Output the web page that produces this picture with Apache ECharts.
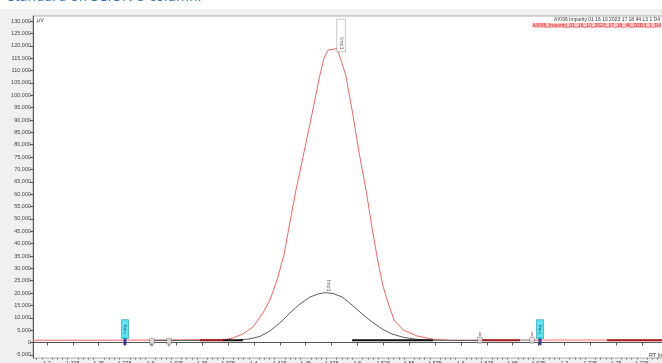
<!DOCTYPE html>
<html>
<head>
<meta charset="utf-8">
<script src="https://cdn.jsdelivr.net/npm/echarts@6/dist/echarts.min.js"></script>
<style>
html, body { margin: 0; padding: 0; background: #fff; }
#chart { width: 662px; height: 363px; }
</style>
</head>
<body>
<div id="chart"></div>
<script>
// RT [min] / µV readings
const redTrace = [
  [1.1865, 930], [1.2705, 930], [1.3720, 1210], [1.3798, 1860], [1.3894, 3480],
  [1.3991, 6310], [1.4087, 11960], [1.4155, 17220], [1.4223, 25300], [1.4290, 35410],
  [1.4348, 48750], [1.4406, 61690], [1.4484, 77040], [1.4561, 92400], [1.4633, 107360],
  [1.4677, 115040], [1.4716, 118270], [1.4803, 118870], [1.4841, 114220], [1.4888, 107960],
  [1.4955, 92400], [1.5015, 77040], [1.5083, 61690], [1.5141, 46320], [1.5199, 32580],
  [1.5247, 22880], [1.5286, 17220], [1.5354, 9130], [1.5441, 5090], [1.5576, 2670],
  [1.5730, 1330], [1.5895, 930], [1.7972, 930]
]
const blackTrace = [
  [1.2995, 850], [1.3817, 850], [1.3962, 1460], [1.4058, 2470], [1.4155, 4690],
  [1.4252, 8000], [1.4348, 11960], [1.4445, 15600], [1.4542, 18430], [1.4619, 19640],
  [1.4687, 20170], [1.4764, 19850], [1.4851, 18430], [1.4948, 15200], [1.5045, 11560],
  [1.5141, 8330], [1.5238, 5490], [1.5334, 3480], [1.5431, 2260], [1.5557, 1330],
  [1.5702, 930], [1.6184, 850]
]
const baseLevel = 950
const darkRedSegs = [[1.3479, 1.3701], [1.6184, 1.6571], [1.7412, 1.7972]]
const blackSegs = [[1.3701, 1.3894], [1.4948, 1.5730]]
const pinkSegs = [[1.6764, 1.7412]]
const greySegs = [[1.6571, 1.6687]]

const redPeak = ['Imp1', 1.4803, 118870]
const blackPeak = ['Imp1', 1.4687, 20170]

const injEvents = [1.2754, 1.6764]
const greenEvents = [1.3015, 1.3179]
const redEvents = [1.6184, 1.6687]

const xTicks = [1.2, 1.225, 1.25, 1.275, 1.3, 1.325, 1.35, 1.375, 1.4, 1.425, 1.45, 1.475,
  1.5, 1.525, 1.55, 1.575, 1.6, 1.625, 1.65, 1.675, 1.7, 1.725, 1.75, 1.775]
const yTicks = [-5000, 0, 5000, 10000, 15000, 20000, 25000, 30000, 35000, 40000, 45000,
  50000, 55000, 60000, 65000, 70000, 75000, 80000, 85000, 90000, 95000, 100000, 105000,
  110000, 115000, 120000, 125000, 130000]

const X_MIN = 1.1865, X_MAX = 1.7972
const Y_MIN = -6250, Y_MAX = 132050

// minor ticks: 4 between majors
const xMinor = []
for (let i = -1; i < xTicks.length; i++) {
  for (let k = 1; k < 5; k++) {
    const v = +(1.2 + i * 0.025 + k * 0.005).toFixed(4)
    if (v > X_MIN && v < X_MAX) xMinor.push(v)
  }
}

const segData = segs => {
  const out = []
  segs.forEach(s => { out.push([s[0], baseLevel], [s[1], baseLevel], [s[1], '-']) })
  return out
}
const evData = arr => arr.map(x => [x, baseLevel])

const smallFont = 'Liberation Sans'

const option = {
  animation: false,
  backgroundColor: '#f0f0f0',
  graphic: [
    { type: 'rect', left: 0, top: 0, shape: { width: 662, height: 9 }, style: { fill: '#fff' }, z: 0 },
    { type: 'text', left: 8, top: -10, z: 10,
      style: { text: 'standard on SCION-5 column.', font: '14px "Open Sans"', fill: '#2e75b6' } },
    { type: 'text', left: 37, top: 17, z: 10,
      style: { text: 'µV', font: '5.5px "Liberation Sans"', fill: '#333' } },
    { type: 'text', right: 2, top: 17, z: 10,
      style: { text: 'AX/06 Impurity 01 16 10 2023 17 18 44 L3 1 D4', font: '5px "Liberation Sans"', fill: '#333', align: 'right' } },
    { type: 'text', right: 1, top: 23, z: 10,
      style: { text: 'AX/06_Impurity_01_16_10_2023_17_18_46_D2D3_1_D4', font: '5px "Liberation Sans"', fill: '#e02020',
        backgroundColor: '#ffc4c4', align: 'right' } },
    { type: 'text', left: 649, top: 352, z: 10,
      style: { text: 'RT [min]', font: '5.5px "Liberation Sans"', fill: '#333' } }
  ],
  grid: {
    left: 33, top: 16, width: 632, height: 342,
    outerBoundsMode: 'none',
    show: true, backgroundColor: '#fff', borderColor: '#b0b0b0', borderWidth: 1
  },
  xAxis: [
    {
      type: 'value', min: X_MIN, max: X_MAX,
      axisLine: { show: true, lineStyle: { color: '#555', width: 1 } },
      axisTick: { show: true, customValues: xTicks, length: 3, lineStyle: { color: '#555' } },
      axisLabel: { customValues: xTicks, fontSize: 5.5, fontFamily: smallFont, color: '#444', margin: 2,
        formatter: v => String(+v.toFixed(3)) },
      splitLine: { show: false }
    },
    {
      type: 'value', min: X_MIN, max: X_MAX, position: 'bottom',
      axisLine: { show: false },
      axisTick: { show: true, customValues: xMinor, length: 1.5, lineStyle: { color: '#666' } },
      axisLabel: { show: false },
      splitLine: { show: false }
    }
  ],
  yAxis: {
    type: 'value', min: Y_MIN, max: Y_MAX,
    axisLine: { show: true, lineStyle: { color: '#555', width: 1 } },
    axisTick: { show: true, customValues: yTicks, length: 3, lineStyle: { color: '#555' } },
    axisLabel: { customValues: yTicks, fontSize: 5.5, fontFamily: smallFont, color: '#444', margin: 2,
      formatter: v => v.toLocaleString('en-US') },
    splitLine: { show: false }
  },
  series: [
    { name: 'red', type: 'line', data: redTrace, showSymbol: false, silent: true,
      lineStyle: { color: '#f06464', width: 1 } },
    { name: 'black', type: 'line', data: blackTrace, showSymbol: false, silent: true,
      lineStyle: { color: '#5a5a5a', width: 1 } },
    { type: 'line', data: segData(pinkSegs), showSymbol: false, silent: true,
      lineStyle: { color: '#ffb4b4', width: 2 } },
    { type: 'line', data: segData(greySegs), showSymbol: false, silent: true,
      lineStyle: { color: '#b8b8b8', width: 2 } },
    { type: 'line', data: segData(darkRedSegs), showSymbol: false, silent: true,
      lineStyle: { color: '#a01818', width: 2 } },
    { type: 'line', data: segData(blackSegs), showSymbol: false, silent: true,
      lineStyle: { color: '#111', width: 2 } },
    // peak labels
    { type: 'scatter', data: [[redPeak[1], redPeak[2]]], symbolSize: 0, silent: true, z: 5,
      label: { show: true, position: 'top', distance: 0, rotate: -90, formatter: redPeak[0],
        fontSize: 5.5, fontFamily: smallFont, color: '#333', backgroundColor: '#fff',
        borderColor: '#a0a0a0', borderWidth: 0.6, padding: [1, 2, 1, 18], align: 'right', offset: [3, 0] } },
    { type: 'scatter', data: [[blackPeak[1], blackPeak[2]]], symbolSize: 0, silent: true, z: 5,
      label: { show: true, position: 'top', distance: 1, rotate: -90, formatter: blackPeak[0],
        fontSize: 5.5, fontFamily: smallFont, color: '#333', align: 'right' } },
    // event markers
    { type: 'scatter', data: evData(injEvents), symbol: 'rect', symbolSize: [3, 8], symbolOffset: [0, 1],
      silent: true, z: 6, itemStyle: { color: '#1c1c8a' } },
    { type: 'scatter', data: evData(injEvents), symbol: 'rect', symbolSize: [7, 19], symbolOffset: [0, -11],
      silent: true, z: 7, itemStyle: { color: '#2ee0ec', borderColor: '#0b8c9c', borderWidth: 0.6 },
      label: { show: true, position: 'inside', rotate: 90, formatter: 'Integ', fontSize: 4,
        fontFamily: smallFont, color: '#134' } },
    { type: 'scatter', data: evData(greenEvents), symbol: 'rect', symbolSize: [1.2, 3], symbolOffset: [0, 5],
      silent: true, z: 6, itemStyle: { color: '#2ca02c' } },
    { type: 'scatter', data: evData(greenEvents), symbol: 'roundRect', symbolSize: [5, 6], symbolOffset: [0, 1],
      silent: true, z: 7, itemStyle: { color: '#e4e4e4', borderColor: '#555', borderWidth: 0.6 } },
    { type: 'scatter', data: evData(redEvents), symbol: 'rect', symbolSize: [1.2, 4], symbolOffset: [0, -6],
      silent: true, z: 6, itemStyle: { color: '#d62728' } },
    { type: 'scatter', data: evData(redEvents), symbol: 'roundRect', symbolSize: [5, 6], symbolOffset: [0, 0],
      silent: true, z: 7, itemStyle: { color: '#e4e4e4', borderColor: '#555', borderWidth: 0.6 } }
  ]
}

const chart = echarts.init(document.getElementById('chart'))
chart.setOption(option)
</script>
</body>
</html>
